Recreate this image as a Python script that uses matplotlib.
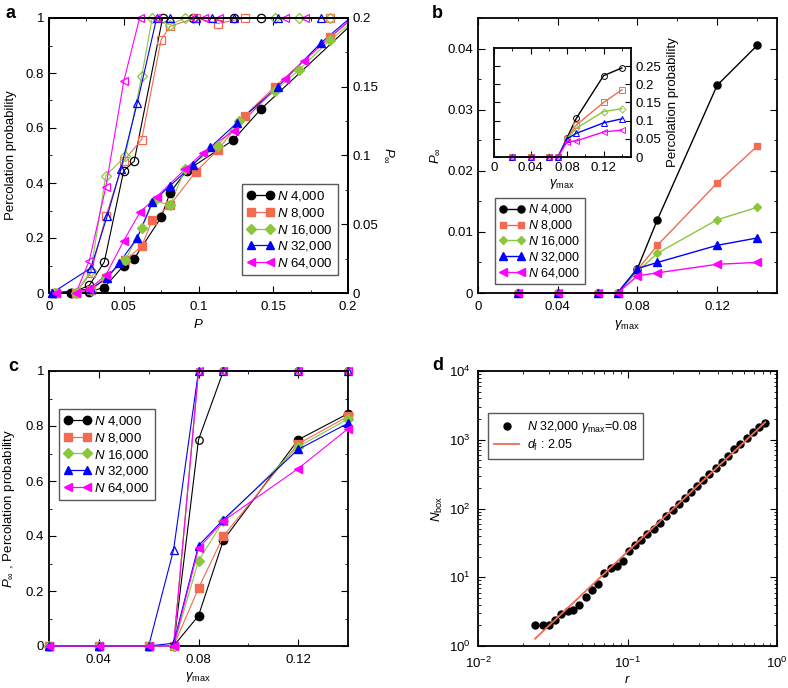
import numpy as np
import matplotlib
import matplotlib.pyplot as plt
from matplotlib.lines import Line2D
from matplotlib.ticker import MultipleLocator, FuncFormatter, LogLocator, NullFormatter

matplotlib.use('Agg')

plt.rcParams['font.family'] = ['Liberation Sans', 'DejaVu Sans']
plt.rcParams['mathtext.fontset'] = 'custom'
plt.rcParams['mathtext.rm'] = 'Liberation Sans'
plt.rcParams['mathtext.it'] = 'Liberation Sans:italic'
plt.rcParams['mathtext.bf'] = 'Liberation Sans:bold'
plt.rcParams['font.size'] = 9.5
plt.rcParams['xtick.direction'] = 'in'
plt.rcParams['ytick.direction'] = 'in'
plt.rcParams['axes.linewidth'] = 1.3

# ---- data ----
sizes = ['4,000', '8,000', '16,000', '32,000', '64,000']

# panel a: percolation probability (open) and P_inf (filled) vs P
a_open_p = [
    [0.015, 0.027, 0.037, 0.050, 0.057, 0.076, 0.096, 0.124, 0.142],
    [0.004, 0.018, 0.028, 0.038, 0.050, 0.062, 0.075, 0.081, 0.098, 0.113, 0.131, 0.188],
    [0.004, 0.018, 0.028, 0.038, 0.051, 0.062, 0.069, 0.081, 0.091, 0.151, 0.167, 0.188],
    [0.002, 0.028, 0.039, 0.048, 0.059, 0.072, 0.081, 0.0985, 0.109, 0.124, 0.153, 0.182],
    [0.005, 0.018, 0.027, 0.038, 0.050, 0.0606, 0.0718, 0.096, 0.104, 0.114, 0.158, 0.171],
]
a_open_perc = [
    [0, 0.028, 0.113, 0.445, 0.479, 1, 1, 1, 1],
    [0, 0, 0.073, 0.279, 0.481, 0.558, 0.921, 0.970, 1, 0.98, 1, 1],
    [0, 0, 0.08, 0.427, 0.497, 0.788, 1, 0.976, 1, 1, 1, 1],
    [0, 0.091, 0.281, 0.451, 0.69, 1, 1, 1, 1, 1, 1, 1],
    [0, 0, 0.118, 0.385, 0.77, 1, 1, 1, 1, 1, 1, 1],
]
a_fill_p = [
    [0.015, 0.027, 0.037, 0.050, 0.057, 0.075, 0.081, 0.092, 0.123, 0.142, 0.21],
    [0.004, 0.018, 0.028, 0.038, 0.051, 0.062, 0.069, 0.081, 0.098, 0.113, 0.131, 0.151, 0.188, 0.21],
    [0.004, 0.018, 0.028, 0.038, 0.051, 0.062, 0.070, 0.081, 0.091, 0.113, 0.127, 0.151, 0.167, 0.188, 0.21],
    [0.002, 0.028, 0.039, 0.047, 0.059, 0.069, 0.081, 0.096, 0.108, 0.126, 0.153, 0.182, 0.21],
    [0.005, 0.018, 0.027, 0.038, 0.050, 0.061, 0.072, 0.091, 0.103, 0.1235, 0.158, 0.1705, 0.21],
]
a_fill_pinf = [
    [0, 0.001, 0.004, 0.020, 0.025, 0.055, 0.073, 0.089, 0.111, 0.134, 0.203],
    [0, 0, 0.002, 0.011, 0.024, 0.034, 0.053, 0.064, 0.088, 0.104, 0.129, 0.150, 0.186, 0.206],
    [0, 0, 0.002, 0.012, 0.024, 0.047, 0.067, 0.064, 0.090, 0.107, 0.125, 0.147, 0.162, 0.184, 0.203],
    [0, 0.003, 0.011, 0.022, 0.040, 0.066, 0.078, 0.093, 0.106, 0.124, 0.150, 0.182, 0.208],
    [0, 0, 0.003, 0.013, 0.038, 0.059, 0.070, 0.090, 0.102, 0.118, 0.156, 0.169, 0.207],
]

# panels b, c: vs gamma_max
gamma_max = [0.02, 0.04, 0.06, 0.07, 0.08, 0.09, 0.12, 0.14]
b_pinf = [
    [0, 0, 0, 0, 0.0040, 0.0120, 0.0340, 0.0405],
    [0, 0, 0, 0, 0.0038, 0.0078, 0.0180, 0.0240],
    [0, 0, 0, 0, 0.0035, 0.0065, 0.0120, 0.0140],
    [0, 0, 0, 0, 0.0040, 0.0050, 0.0078, 0.0090],
    [0, 0, 0, 0, 0.0028, 0.0033, 0.0047, 0.0050],
]
b_inset_perc = [
    [0, 0, 0, 0, 0.053, 0.106, 0.224, 0.245],
    [0, 0, 0, 0, 0.050, 0.088, 0.150, 0.185],
    [0, 0, 0, 0, 0.050, 0.079, 0.125, 0.133],
    [0, 0, 0, 0, 0.050, 0.065, 0.094, 0.105],
    [0, 0, 0, 0, 0.042, 0.044, 0.069, 0.074],
]
c_perc = [
    [0, 0, 0, 0, 0.75, 1, 1, 1],
    [0, 0, 0, 0, 1, 1, 1, 1],
    [0, 0, 0, 0, 1, 1, 1, 1],
    [0, 0, 0, 0.35, 1, 1, 1, 1],
    [0, 0, 0, 0, 1, 1, 1, 1],
]
c_pinf = [
    [0, 0, 0, 0, 0.11, 0.385, 0.75, 0.845],
    [0, 0, 0, 0, 0.21, 0.40, 0.735, 0.835],
    [0, 0, 0, 0, 0.31, 0.455, 0.725, 0.825],
    [0, 0, 0, 0.01, 0.365, 0.46, 0.715, 0.81],
    [0, 0, 0, 0, 0.355, 0.455, 0.645, 0.79],
]

# panel d: box counting
d_r = [0.0241, 0.0272, 0.0299, 0.0325, 0.0360, 0.0397, 0.0431, 0.0477, 0.0526, 0.0580,
       0.0635, 0.0700, 0.0772, 0.0847, 0.0928, 0.1018, 0.1128, 0.1237, 0.1356, 0.1495,
       0.1648, 0.1807, 0.2002, 0.2195, 0.2419, 0.2653, 0.2924, 0.3207, 0.3535, 0.3897,
       0.4273, 0.4710, 0.5190, 0.5692, 0.6275, 0.6917, 0.7585, 0.8357]
d_nbox = [2, 2, 2, 2.4, 2.9, 3.2, 3.3, 3.9, 5.2, 6.6,
          8.1, 11.5, 13.8, 14.7, 17.2, 23.8, 29.1, 35.2, 43, 51,
          61.5, 79, 94, 117, 144, 174, 212, 257, 321, 388,
          475, 580, 726, 868, 1060, 1297, 1531, 1753]
d_fit_r = [0.0241, 0.836]
d_fit_n = [1.28, 1810]

# ---- styles ----
colors = ['black', '#f26a4f', '#8cc63f', '#0000ff', '#ff00ff']
markers = ['o', 's', 'D', '^', '<']
msizes = [6, 5.5, 5, 6, 6]
fmt = FuncFormatter(lambda v, p: '%g' % v)
W, H = 788.0, 688.0


def rect(l, t, r, b):
    return [l / W, 1 - b / H, (r - l) / W, (b - t) / H]


def legend_handles(ms_scale=1.0, lw=0.9):
    return [Line2D([], [], color=c, marker=m, ms=s * ms_scale, lw=lw, label=r'$N$ ' + n)
            for c, m, s, n in zip(colors, markers, msizes, sizes)]


fig = plt.figure(figsize=(7.88, 6.88), dpi=100)

# ---------- a ----------
ax = fig.add_axes(rect(49, 18, 348, 293))
ax2 = ax.twinx()
for i in range(5):
    x = np.array(a_open_p[i]); y = np.array(a_open_perc[i])
    ax.plot(x, y, '-', color=colors[i], lw=0.8)
    ax.plot(x, y, ls='none', marker=markers[i], ms=msizes[i], mfc='none', mec=colors[i],
            mew=0.9, clip_on=False)
    x = np.array(a_fill_p[i]); y = np.array(a_fill_pinf[i])
    ax2.plot(x, y, '-', color=colors[i], lw=0.8)
    k = x <= 0.2
    ax2.plot(x[k], y[k], ls='none', marker=markers[i], ms=msizes[i], color=colors[i],
             clip_on=False, zorder=3)
ax.set_xlim(0, 0.2)
ax.set_ylim(0, 1)
ax2.set_ylim(0, 0.2)
ax.xaxis.set_major_locator(MultipleLocator(0.05))
ax.xaxis.set_minor_locator(MultipleLocator(0.025))
ax.yaxis.set_major_locator(MultipleLocator(0.2))
ax.yaxis.set_minor_locator(MultipleLocator(0.1))
ax2.yaxis.set_major_locator(MultipleLocator(0.05))
ax2.yaxis.set_minor_locator(MultipleLocator(0.025))
for a_ in (ax, ax2):
    a_.xaxis.set_major_formatter(fmt)
    a_.yaxis.set_major_formatter(fmt)
ax.tick_params(which='both', top=True, right=False)
ax.tick_params(which='major', length=5)
ax.tick_params(axis='x', pad=6)
ax.tick_params(which='minor', length=2.5)
ax2.tick_params(which='major', length=5)
ax2.tick_params(which='minor', length=2.5)
ax.set_xlabel(r'$P$', labelpad=3)
ax.set_ylabel('Percolation probability', labelpad=6)
ax2.set_ylabel(r'$P_{\infty}$', rotation=270, labelpad=12)
ax2.legend(handles=legend_handles(), loc='upper left', bbox_to_anchor=(0.645, 0.396),
           borderaxespad=0, numpoints=2, handlelength=2.0, handletextpad=0.3,
           labelspacing=0.2, borderpad=0.4, fancybox=False, edgecolor='0.35',
           framealpha=1, fontsize=9.5)

# ---------- b ----------
bx = fig.add_axes(rect(478, 18, 777, 293))
for i in range(5):
    bx.plot(gamma_max, b_pinf[i], '-', color=colors[i], lw=1.0, marker=markers[i],
            ms=msizes[i] * 0.85, clip_on=False, label=r'$N$ ' + sizes[i])
bx.set_xlim(0, 0.15)
bx.set_ylim(0, 0.045)
bx.xaxis.set_major_locator(MultipleLocator(0.04))
bx.xaxis.set_minor_locator(MultipleLocator(0.02))
bx.yaxis.set_major_locator(MultipleLocator(0.01))
bx.yaxis.set_minor_locator(MultipleLocator(0.005))
bx.xaxis.set_major_formatter(fmt)
bx.yaxis.set_major_formatter(fmt)
bx.tick_params(which='both', top=True, right=True)
bx.tick_params(which='major', length=5)
bx.tick_params(axis='x', pad=6)
bx.tick_params(which='minor', length=2.5)
bx.set_xlabel(r'$\gamma_{\rm max}$', labelpad=3)
bx.set_ylabel(r'$P_{\infty}$', labelpad=4)
bx.legend(loc='upper left', bbox_to_anchor=(0.057, 0.345), borderaxespad=0, numpoints=2,
          handlelength=2.0, handletextpad=0.3, labelspacing=0.15, borderpad=0.35,
          fancybox=False, edgecolor='0.35', framealpha=1, fontsize=9)

ix = fig.add_axes(rect(494, 48, 631, 157))
for i in range(5):
    ix.plot(gamma_max, b_inset_perc[i], '-', color=colors[i], lw=1.0, marker=markers[i],
            ms=msizes[i] * 0.7, mfc='none', mec=colors[i], mew=0.7, clip_on=False)
ix.set_xlim(0, 0.15)
ix.set_ylim(0, 0.3)
ix.xaxis.set_major_locator(MultipleLocator(0.04))
ix.xaxis.set_minor_locator(MultipleLocator(0.02))
ix.set_yticks([0, 0.05, 0.1, 0.15, 0.2, 0.25])
ix.xaxis.set_major_formatter(fmt)
ix.yaxis.set_major_formatter(fmt)
ix.yaxis.tick_right()
ix.yaxis.set_label_position('right')
ix.tick_params(which='both', top=True, left=True, right=True, labelleft=False,
               labelright=True)
ix.tick_params(which='major', length=4)
ix.tick_params(which='minor', length=2)
ix.set_xlabel(r'$\gamma_{\rm max}$', labelpad=2)
ix.set_ylabel('Percolation probability', labelpad=4)

# ---------- c ----------
cx = fig.add_axes(rect(49, 371, 348, 646))
for i in range(5):
    cx.plot(gamma_max, c_perc[i], '-', color=colors[i], lw=0.8, marker=markers[i],
            ms=msizes[i] * 0.9, mfc='none', mec=colors[i], mew=0.9, clip_on=False)
for i in range(5):
    cx.plot(gamma_max, c_pinf[i], '-', color=colors[i], lw=0.8, marker=markers[i],
            ms=msizes[i], clip_on=False, zorder=3)
cx.set_xlim(0.02, 0.14)
cx.set_ylim(0, 1)
cx.set_xticks([0.04, 0.08, 0.12])
cx.xaxis.set_minor_locator(MultipleLocator(0.02))
cx.yaxis.set_major_locator(MultipleLocator(0.2))
cx.yaxis.set_minor_locator(MultipleLocator(0.1))
cx.xaxis.set_major_formatter(fmt)
cx.yaxis.set_major_formatter(fmt)
cx.tick_params(which='both', top=True, right=True)
cx.tick_params(which='major', length=5)
cx.tick_params(axis='x', pad=6)
cx.tick_params(which='minor', length=2.5)
cx.set_xlabel(r'$\gamma_{\rm max}$', labelpad=3)
cx.set_ylabel(r'$P_{\infty}$ , Percolation probability', labelpad=6)
cx.legend(handles=legend_handles(), loc='upper left', bbox_to_anchor=(0.033, 0.862),
          borderaxespad=0, numpoints=2, handlelength=2.0, handletextpad=0.3,
          labelspacing=0.2, borderpad=0.4, fancybox=False, edgecolor='0.35',
          framealpha=1, fontsize=9.5)

# ---------- d ----------
dx = fig.add_axes(rect(478, 371, 777, 646))
dx.loglog(d_r, d_nbox, ls='none', marker='o', ms=5, color='black',
          label=r'$N$ 32,000 $\gamma_{\rm max}$=0.08')
dx.loglog(d_fit_r, d_fit_n, '-', color='#f26a4f', lw=1.3, label=r'$d_{\rm f}$ : 2.05')
dx.set_xlim(1e-2, 1)
dx.set_ylim(1, 1e4)
dx.xaxis.set_major_locator(LogLocator(base=10))
dx.xaxis.set_minor_locator(LogLocator(base=10, subs=np.arange(2, 10)))
dx.yaxis.set_minor_locator(LogLocator(base=10, subs=np.arange(2, 10)))
dx.xaxis.set_minor_formatter(NullFormatter())
dx.yaxis.set_minor_formatter(NullFormatter())
dx.tick_params(which='both', top=True, right=True)
dx.tick_params(which='major', length=5)
dx.tick_params(axis='x', pad=7)
dx.tick_params(axis='y', pad=5)
dx.tick_params(which='minor', length=2.5)
dx.set_xlabel(r'$r$', labelpad=2)
dx.set_ylabel(r'$N_{\rm box}$', labelpad=3)
dx.legend(loc='upper left', bbox_to_anchor=(0.033, 0.847), borderaxespad=0, numpoints=1,
          handlelength=2.0, handletextpad=0.6, labelspacing=0.2, borderpad=0.5,
          fancybox=False, edgecolor='0.35', framealpha=1, fontsize=9)

# panel letters
for lab, (x, y) in zip('abcd', [(5, 13), (432, 13), (8, 367), (432, 365)]):
    fig.text(x / W, 1 - y / H, lab, fontsize=13, fontweight='bold', ha='left', va='center')

plt.savefig('out.png', dpi=100)
